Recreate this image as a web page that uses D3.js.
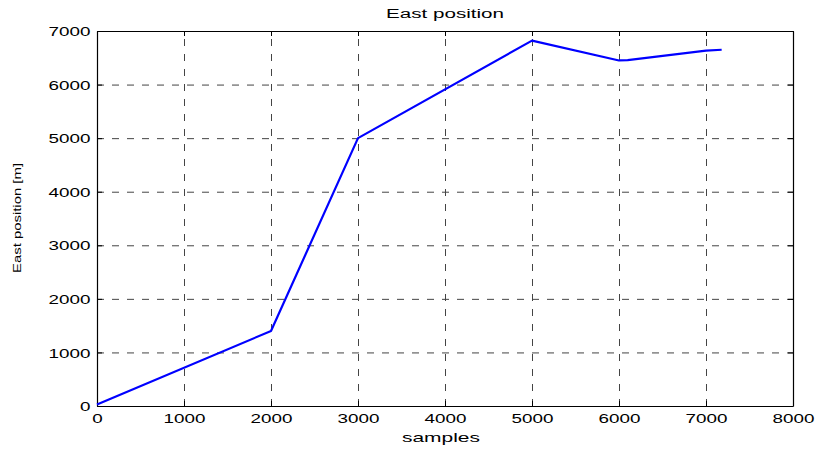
<!DOCTYPE html>
<html>
<head>
<meta charset="utf-8">
<script src="https://cdn.jsdelivr.net/npm/d3@7"></script>
<style>
  body { margin: 0; background: #fff; }
  text { font-family: "Liberation Sans", Arial, Helvetica, sans-serif; fill: #000; }
</style>
</head>
<body>
<div id="chart"></div>
<script>

// data
const samples = [0, 2000, 3000, 5000, 6000, 6100, 7000, 7180];
const eastPos = [30, 1400, 5000, 6820, 6450, 6455, 6635, 6650];
const xTicks = [0, 1000, 2000, 3000, 4000, 5000, 6000, 7000, 8000];
const yTicks = [0, 1000, 2000, 3000, 4000, 5000, 6000, 7000];

const W = 819, H = 450;
const margin = { top: 31, right: 26, bottom: 44, left: 97 };
const width = W - margin.left - margin.right;
const height = H - margin.top - margin.bottom;
const stretch = 1.45;  // matlab fonts come out wide

let svg = d3.select("#chart").append("svg")
    .attr("width", W)
    .attr("height", H);

let g = svg.append("g")
    .attr("transform", "translate(" + margin.left + "," + margin.top + ")");

let x = d3.scaleLinear().domain([0, 8000]).range([0, width]);
let y = d3.scaleLinear().domain([0, 7000]).range([height, 0]);

// grid
g.append("g")
    .attr("class", "grid")
    .attr("transform", "translate(0," + height + ")")
    .call(d3.axisBottom(x).tickValues(xTicks).tickSize(-height).tickFormat(""));
g.append("g")
    .attr("class", "grid")
    .call(d3.axisLeft(y).tickValues(yTicks).tickSize(-width).tickFormat(""));
g.selectAll(".grid .domain").remove();
g.selectAll(".grid line")
    .attr("stroke", "#444")
    .attr("stroke-width", 1)
    .attr("stroke-dasharray", "7,8");

// axes with inward ticks, box all round
let xAxis = g.append("g")
    .attr("transform", "translate(0," + height + ")")
    .call(d3.axisBottom(x).tickValues(xTicks).tickSizeInner(-5).tickSizeOuter(0).tickFormat(d3.format("d")));
let yAxis = g.append("g")
    .call(d3.axisLeft(y).tickValues(yTicks).tickSizeInner(-5).tickSizeOuter(0).tickFormat(d3.format("d")));
g.append("g")
    .call(d3.axisTop(x).tickValues(xTicks).tickSizeInner(-5).tickSizeOuter(0).tickFormat(""));
g.append("g")
    .attr("transform", "translate(" + width + ",0)")
    .call(d3.axisRight(y).tickValues(yTicks).tickSizeInner(-5).tickSizeOuter(0).tickFormat(""));

g.selectAll(".domain").attr("stroke", "#000").attr("stroke-width", 1.2);
g.selectAll(".tick line").filter(function () { return !this.closest(".grid"); })
    .attr("stroke", "#000");

xAxis.selectAll("text")
    .attr("y", 17)
    .attr("dy", 0)
    .attr("font-size", 13)
    .attr("transform", "scale(" + stretch + ",1)");
yAxis.selectAll("text")
    .attr("x", -6.5 / stretch)
    .attr("dy", "0.36em")
    .attr("font-size", 13)
    .attr("transform", "scale(" + stretch + ",1)");

// the series
let line = d3.line()
    .x((d, i) => x(samples[i]))
    .y(d => y(d));

g.append("path")
    .datum(eastPos)
    .attr("d", line)
    .attr("fill", "none")
    .attr("stroke", "#0000ff")
    .attr("stroke-width", 2.2)
    .attr("stroke-linejoin", "round");

// titles
svg.append("text")
    .attr("x", margin.left + width / 2)
    .attr("y", 18)
    .attr("text-anchor", "middle")
    .attr("font-size", 12.5)
    .attr("textLength", 118)
    .attr("lengthAdjust", "spacingAndGlyphs")
    .text("East position");

svg.append("text")
    .attr("x", 441)
    .attr("y", 442)
    .attr("text-anchor", "middle")
    .attr("font-size", 13.5)
    .attr("textLength", 78)
    .attr("lengthAdjust", "spacingAndGlyphs")
    .text("samples");

svg.append("text")
    .attr("transform", "translate(21,218) rotate(-90)")
    .attr("text-anchor", "middle")
    .attr("font-size", 11.5)
    .attr("textLength", 110)
    .attr("lengthAdjust", "spacingAndGlyphs")
    .text("East position [m]");

</script>
</body>
</html>
